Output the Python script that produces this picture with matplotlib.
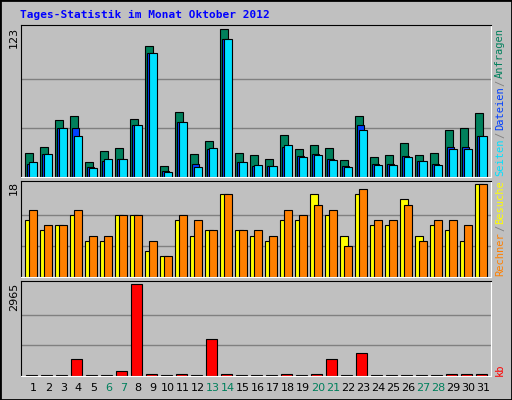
import matplotlib
matplotlib.use("Agg")
import matplotlib.pyplot as plt
import numpy as np

days = list(range(1, 32))
hits  = [20.3,25.3,47.9,51.2,12.8,22,24.5,48.7,109.6,9.5,54.5,19.5,30.3,123,20.3,18.6,15.3,35.3,23.7,27,24.5,14.5,51.2,17,18.6,28.7,18.6,20.3,39.5,41.2,53.7]
files = [11,19.5,41.2,41.2,8,13,15.3,43,103,5,46,10.5,23,115,12.5,9.5,9,25.3,17.3,19.5,15.3,9.5,43.7,10.5,10.5,17.8,13,10.5,25.3,25.3,34.5]
pages = [12.8,19.5,41.2,34.5,7.8,15.3,15.3,43.7,103,4.5,46,8.5,24.5,115,12.8,10.3,9.5,27,17.0,18.6,14.5,8.5,39.5,10.3,10.3,17,13.6,10.3,23.7,23.7,34.5]
visits = [11,9,10,12,7,7,12,12,5,4,11,8,9,16,9,8,7,11,11,16,12,8,16,10,10,15,8,10,9,7,18]
sites  = [13,10,10,13,8,8,12,12,7,4,12,11,9,16,9,9,8,13,12,14,13,6,17,11,11,14,7,11,11,10,18]
kb = [30,30,30,532,30,30,163,2965,65,30,65,30,1205,65,30,30,30,65,30,65,532,30,750,30,30,30,30,30,65,65,65]
weekend = {6,7,13,14,20,21,27,28}

W, H = 512, 400
fig = plt.figure(figsize=(W/100, H/100), dpi=100, facecolor="#c0c0c0")
mono = "DejaVu Sans Mono"

def ax_px(l, t, r, b):
    return fig.add_axes([l/W, 1-b/H, (r-l)/W, (b-t)/H])

L, R = 21, 491
x = np.array(days, dtype=float)
xlim = (0.18, 0.18 + (R-L)/15)

def style(ax, ymax):
    ax.set_facecolor("#c0c0c0")
    ax.set_xlim(*xlim)
    ax.set_ylim(0, ymax*1.03)
    ax.set_xticks([]); ax.set_yticks([])
    for g in (ymax/3, 2*ymax/3):
        ax.axhline(g, color="#808080", lw=1, zorder=0)
    for s in ax.spines.values():
        s.set_color("black")
    ax.spines["bottom"].set_color("white"); ax.spines["right"].set_color("white")

a1 = ax_px(L, 25, R, 177)
style(a1, 123)
kw = dict(align="edge", edgecolor="black", linewidth=0.8)
a1.bar(x-0.53, hits, 0.49, color="#00805c", **kw)
a1.bar(x-0.42, files, 0.49, color="#0040ff", **kw)
a1.bar(x-0.27, pages, 0.49, color="#00e0ff", **kw)

a2 = ax_px(L, 181, R, 277)
style(a2, 18)
a2.bar(x-0.53, visits, 0.49, color="#ffff00", **kw)
a2.bar(x-0.27, sites, 0.49, color="#ff8000", **kw)

a3 = ax_px(L, 281, R, 376)
style(a3, 2965)
a3.bar(x-0.49, kb, 0.71, color="#ff0000", **kw)

for d in days:
    fig.text((L + (d-xlim[0])*15)/W, 1-388/H, str(d), ha="center", va="center",
             fontsize=8, color="#00805c" if d in weekend else "black")

fig.text(20/W, 1-15/H, "Tages-Statistik im Monat Oktober 2012", family=mono,
         weight="bold", color="#0000ff", fontsize=8, va="center")
for lbl, top in (("123", 27), ("18", 181), ("2965", 283)):
    fig.text(14/W, 1-top/H, lbl, rotation=90, ha="center", va="top", fontsize=8)

fig.canvas.draw()
rend = fig.canvas.get_renderer()

def rlabel(parts, bottom):
    y = bottom
    for s, c in parts:
        t = fig.text(500/W, 1-y/H, s, rotation=90, ha="center", va="bottom",
                     family=mono, fontsize=7.5, color=c)
        ext = t.get_window_extent(rend)
        y -= ext.height + 1
rlabel([("Seiten", "#00e0ff"), ("/", "#808080"), ("Dateien", "#0040ff"),
        ("/", "#808080"), ("Anfragen", "#00805c")], 176)
rlabel([("Rechner", "#ff8000"), ("/", "#808080"), ("Besuche", "#ffff00")], 276)
rlabel([("kb", "#ff0000")], 376)

fig.patches.append(plt.Rectangle((0, 0), 1, 1, transform=fig.transFigure,
                   fill=False, edgecolor="black", lw=2))
fig.savefig("out.png", dpi=100, facecolor=fig.get_facecolor())
